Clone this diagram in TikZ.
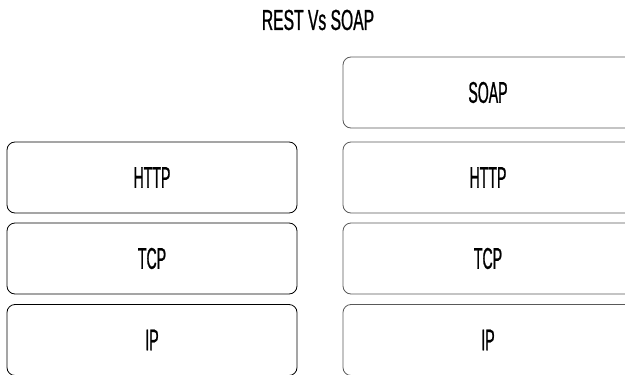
\documentclass[tikz,border=0pt]{standalone}
\usepackage{fontspec}
\setmainfont{Liberation Sans}
\newfontfamily\narrowfont[FakeStretch=0.47,FakeBold=0.8]{Liberation Sans}
\newfontfamily\titlefont[FakeStretch=0.54,FakeBold=0.8]{Liberation Sans}
\usetikzlibrary{positioning}

\begin{document}
\begin{tikzpicture}[x=1pt,y=-1pt, line width=0.8pt,
   layer/.style={draw,rounded corners=8pt,minimum width=290pt,minimum height=71pt,inner sep=0pt,
      font=\narrowfont\fontsize{30}{30}\selectfont}]
   \useasboundingbox (0,0) rectangle (625,375);
   \node[font=\titlefont\fontsize{29}{29}\selectfont] (title) at (318,20) {REST Vs SOAP};
   \foreach \pos/\name/\disp in {{(152,177.5)/resthttp/HTTP}, {(152,258.5)/resttcp/TCP}, {(152,340)/restip/IP}}
   \node[layer,draw=black] (\name) at \pos {\disp};
   \foreach \pos/\name/\disp in {{(488,92.5)/soap/SOAP}, {(488,177.5)/soaphttp/HTTP}, {(488,258.5)/soaptcp/TCP}, {(488,340)/soapip/IP}} % SOAP stack, cut off at the right
   \node[layer,draw=black!65] (\name) at \pos {\disp};
\end{tikzpicture}
\end{document}
